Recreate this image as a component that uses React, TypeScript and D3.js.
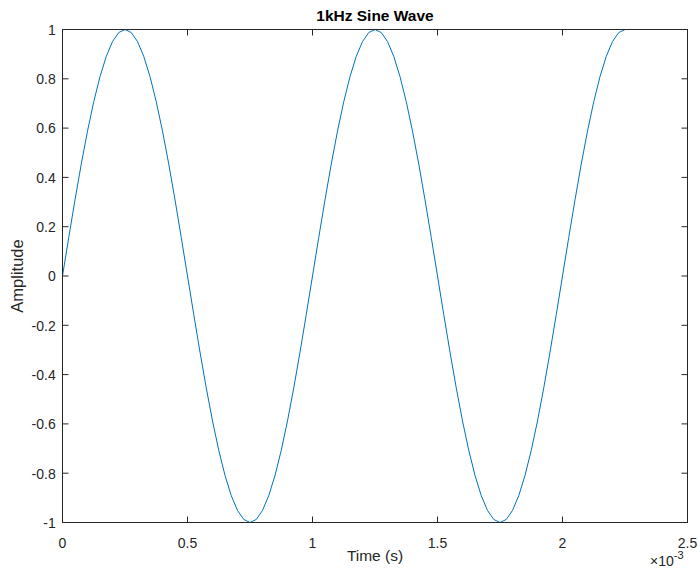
import React from "react";
import * as d3 from "d3";

// Signal samples: time in milliseconds, amplitude in normalised units
const sampleTimesMs: number[] = [
  0, 0.025, 0.05, 0.075, 0.1, 0.125, 0.15, 0.175, 0.2, 0.225,
  0.25, 0.275, 0.3, 0.325, 0.35, 0.375, 0.4, 0.425, 0.45, 0.475,
  0.5, 0.525, 0.55, 0.575, 0.6, 0.625, 0.65, 0.675, 0.7, 0.725,
  0.75, 0.775, 0.8, 0.825, 0.85, 0.875, 0.9, 0.925, 0.95, 0.975,
  1.0, 1.025, 1.05, 1.075, 1.1, 1.125, 1.15, 1.175, 1.2, 1.225,
  1.25, 1.275, 1.3, 1.325, 1.35, 1.375, 1.4, 1.425, 1.45, 1.475,
  1.5, 1.525, 1.55, 1.575, 1.6, 1.625, 1.65, 1.675, 1.7, 1.725,
  1.75, 1.775, 1.8, 1.825, 1.85, 1.875, 1.9, 1.925, 1.95, 1.975,
  2.0, 2.025, 2.05, 2.075, 2.1, 2.125, 2.15, 2.175, 2.2, 2.225,
  2.25,
];

const amplitudes: number[] = [
  0, 0.1564, 0.309, 0.454, 0.5878, 0.7071, 0.809, 0.891, 0.9511, 0.9877,
  1, 0.9877, 0.9511, 0.891, 0.809, 0.7071, 0.5878, 0.454, 0.309, 0.1564,
  0, -0.1564, -0.309, -0.454, -0.5878, -0.7071, -0.809, -0.891, -0.9511, -0.9877,
  -1, -0.9877, -0.9511, -0.891, -0.809, -0.7071, -0.5878, -0.454, -0.309, -0.1564,
  0, 0.1564, 0.309, 0.454, 0.5878, 0.7071, 0.809, 0.891, 0.9511, 0.9877,
  1, 0.9877, 0.9511, 0.891, 0.809, 0.7071, 0.5878, 0.454, 0.309, 0.1564,
  0, -0.1564, -0.309, -0.454, -0.5878, -0.7071, -0.809, -0.891, -0.9511, -0.9877,
  -1, -0.9877, -0.9511, -0.891, -0.809, -0.7071, -0.5878, -0.454, -0.309, -0.1564,
  0, 0.1564, 0.309, 0.454, 0.5878, 0.7071, 0.809, 0.891, 0.9511, 0.9877,
  1,
];

const xTicks: number[] = [0, 0.5, 1, 1.5, 2, 2.5];
const xTickLabels: string[] = ["0", "0.5", "1", "1.5", "2", "2.5"];
const yTicks: number[] = [-1, -0.8, -0.6, -0.4, -0.2, 0, 0.2, 0.4, 0.6, 0.8, 1];
const yTickLabels: string[] = ["-1", "-0.8", "-0.6", "-0.4", "-0.2", "0", "0.2", "0.4", "0.6", "0.8", "1"];

const W = 699;
const H = 569;
const left = 62.5;
const right = 687.5;
const top = 29.5;
const bottom = 522.5;
const tickLen = 6;
const axisColor = "#262626";
const lineColor = "#0072BD";
const font = "'Liberation Sans', Arial, Helvetica, sans-serif";
const tickFont = 14;

export default function App() {
  const x = d3.scaleLinear().domain([0, 2.5]).range([left, right]);
  const y = d3.scaleLinear().domain([-1, 1]).range([bottom, top]);

  const points: [number, number][] = sampleTimesMs.map((t, i) => [t, amplitudes[i]]);
  const path = d3
    .line<[number, number]>()
    .x((d) => x(d[0]))
    .y((d) => y(d[1]))(points);

  return (
    <svg
      width={W}
      height={H}
      style={{ position: "absolute", left: 0, top: 0, background: "#fff" }}
      fontFamily={font}
    >
      <rect x={0} y={0} width={W} height={H} fill="#fff" />

      {/* signal trace */}
      <path d={path ?? ""} fill="none" stroke={lineColor} strokeWidth={1} />

      {/* box */}
      <rect
        x={left}
        y={top}
        width={right - left}
        height={bottom - top}
        fill="none"
        stroke={axisColor}
        strokeWidth={1}
      />

      {/* x ticks, bottom and top */}
      {xTicks.map((t, i) => (
        <g key={"x" + i}>
          <line x1={x(t)} x2={x(t)} y1={bottom} y2={bottom - tickLen} stroke={axisColor} />
          <line x1={x(t)} x2={x(t)} y1={top} y2={top + tickLen} stroke={axisColor} />
          <text
            x={x(t)}
            y={bottom + 25.5}
            textAnchor="middle"
            fontSize={tickFont}
            fill={axisColor}
          >
            {xTickLabels[i]}
          </text>
        </g>
      ))}

      {/* y ticks, left and right */}
      {yTicks.map((t, i) => (
        <g key={"y" + i}>
          <line x1={left} x2={left + tickLen} y1={y(t)} y2={y(t)} stroke={axisColor} />
          <line x1={right} x2={right - tickLen} y1={y(t)} y2={y(t)} stroke={axisColor} />
          <text
            x={left - 6.8}
            y={y(t) + 5.3}
            textAnchor="end"
            fontSize={tickFont}
            fill={axisColor}
          >
            {yTickLabels[i]}
          </text>
        </g>
      ))}

      {/* exponent marker */}
      <text x={650} y={566} fontSize={14} fill={axisColor}>
        ×10
        <tspan dy={-7} fontSize={11}>-3</tspan>
      </text>

      {/* axis labels */}
      <text x={(left + right) / 2} y={561} textAnchor="middle" fontSize={15.5} fill={axisColor}>
        Time (s)
      </text>
      <text
        transform={`translate(23, ${(top + bottom) / 2}) rotate(-90)`}
        textAnchor="middle"
        fontSize={16.5}
        fill={axisColor}
      >
        Amplitude
      </text>

      {/* title */}
      <text
        x={(left + right) / 2}
        y={21}
        textAnchor="middle"
        fontSize={15.5}
        fontWeight="bold"
        fill="#000"
      >
        1kHz Sine Wave
      </text>
    </svg>
  );
}
